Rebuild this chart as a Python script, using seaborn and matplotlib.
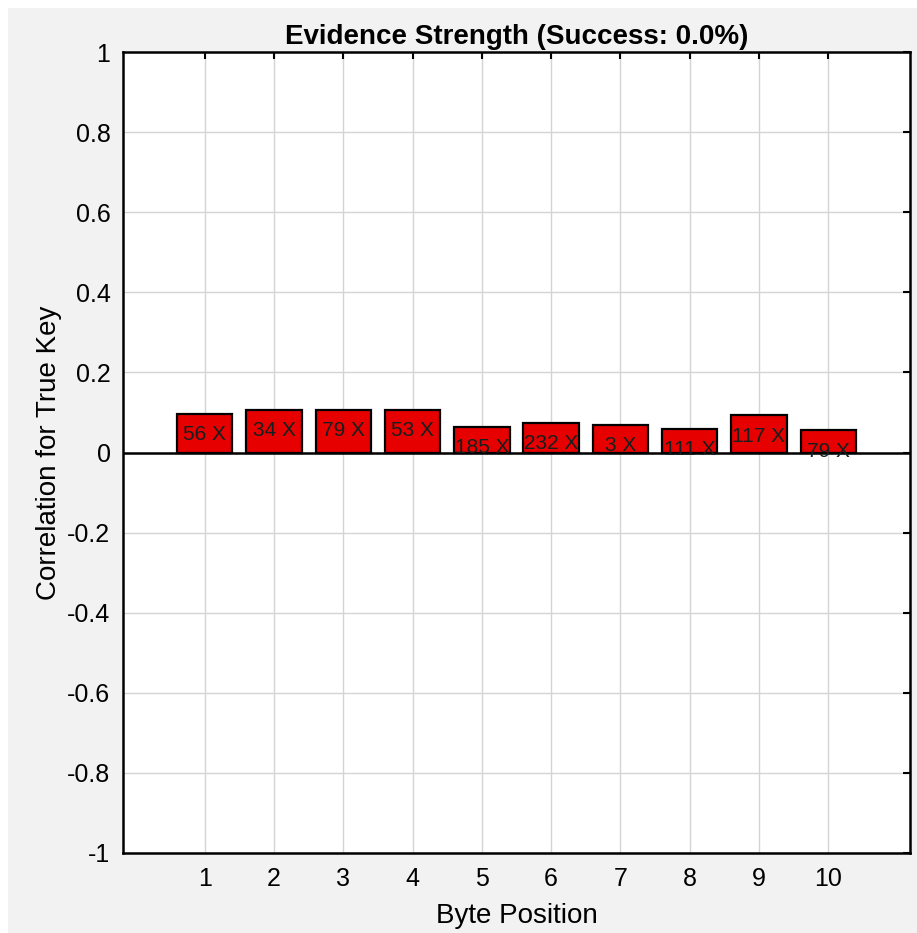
import numpy as np
import pandas as pd
import matplotlib
matplotlib.use('Agg')
import matplotlib.pyplot as plt
from matplotlib.patches import Rectangle
import seaborn as sns

# values
byte_pos = [1, 2, 3, 4, 5, 6, 7, 8, 9, 10]
corr_true_key = [0.097, 0.107, 0.107, 0.107, 0.064, 0.074, 0.069, 0.059, 0.093, 0.055]
rank_labels = ['56 X', '34 X', '79 X', '53 X', '185 X', '232 X', '3 X', '111 X', '117 X', '79 X']
y_ticks = [-1, -0.8, -0.6, -0.4, -0.2, 0, 0.2, 0.4, 0.6, 0.8, 1]
y_ticklabels = ['-1', '-0.8', '-0.6', '-0.4', '-0.2', '0', '0.2', '0.4', '0.6', '0.8', '1']
success_rate = 0.0

df = pd.DataFrame({'pos': byte_pos, 'corr': corr_true_key})

sns.set_style('whitegrid')
plt.rcParams['font.family'] = ['Liberation Sans', 'DejaVu Sans']
plt.rcParams['text.color'] = 'black'
plt.rcParams['axes.labelcolor'] = 'black'

BG = '#f2f2f2'
RED = '#e60000'
TXT = '#14201f'

fig = plt.figure(figsize=(9.17, 9.33), dpi=100, facecolor='white')
# grey window area with a thin white border on the left/top
fig.patches.append(Rectangle((8 / 917, 0), 1, 1 - 8 / 933, transform=fig.transFigure,
                             facecolor=BG, edgecolor='none', zorder=-10))
ax = fig.add_axes([123 / 917, 1 - 853 / 933, (910 - 123) / 917, (853 - 52) / 933])
ax.set_facecolor('white')

sns.barplot(data=df, x='pos', y='corr', native_scale=True, width=0.8,
            color=RED, saturation=1, edgecolor='black', linewidth=1.6, ax=ax, zorder=3)
ax.axhline(0, color='black', lw=1.8, zorder=4)

for p, v, lab in zip(byte_pos, corr_true_key, rank_labels):
    ax.text(p, v - 0.052, lab, ha='center', va='center', fontsize=15,
            color=TXT, zorder=5)

ax.set_xlim(-0.18, 11.18)
ax.set_ylim(-1, 1)
ax.set_xticks(byte_pos)
ax.set_xticklabels([str(b) for b in byte_pos])
ax.set_yticks(y_ticks)
ax.set_yticklabels(y_ticklabels)

ax.grid(True, color='#d4d4d4', lw=1.0, zorder=0)
ax.set_axisbelow(True)
for s in ax.spines.values():
    s.set_visible(True)
    s.set_edgecolor('black')
    s.set_linewidth(1.8)

ax.tick_params(axis='both', direction='in', length=5, width=1.5, colors='black',
               labelsize=18, top=True, right=True, pad=9)
ax.tick_params(axis='x', pad=10)

ax.set_title(f'Evidence Strength (Success: {success_rate:.1f}%)',
             fontsize=20, fontweight='bold', pad=6, color='black')
ax.set_xlabel('Byte Position', fontsize=20, labelpad=9)
ax.set_ylabel('Correlation for True Key', fontsize=20, labelpad=4)

fig.savefig('out.png', dpi=100, facecolor=fig.get_facecolor())
